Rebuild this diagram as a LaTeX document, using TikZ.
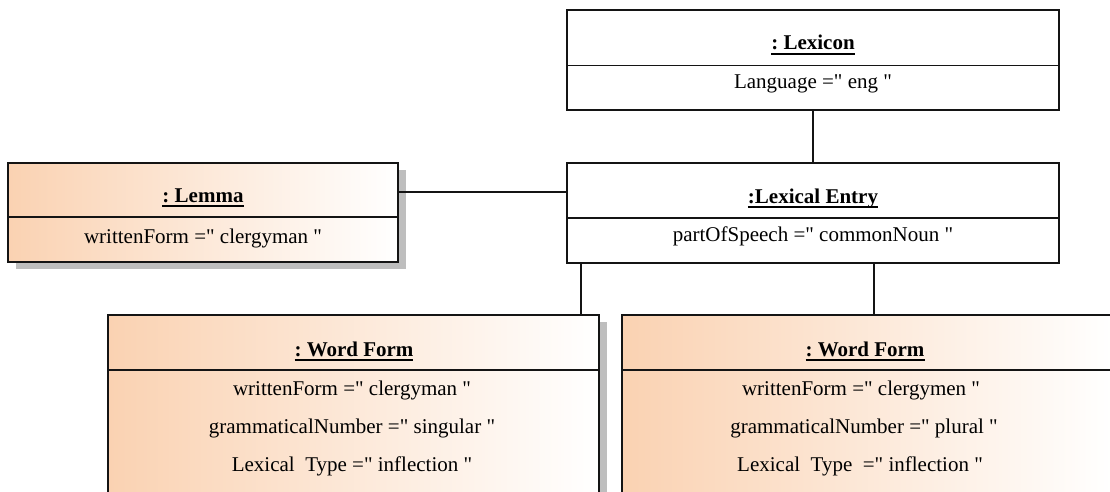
\documentclass[tikz,border=0pt]{standalone}
\usepackage{fontspec}
\setmainfont{Liberation Serif}
\usetikzlibrary{shadows}

\definecolor{peach}{RGB}{250,210,178}
\definecolor{shadowgray}{RGB}{190,190,190}
\definecolor{edge}{RGB}{20,20,20}

% straight double quote, set as a glyph so no text mapping curls it
\newcommand{\dq}{\XeTeXglyph\XeTeXcharglyph"22\relax}
% bold, thickly underlined object title
\newcommand{\objtitle}[1]{\setbox0\hbox{\bfseries #1}\rlap{\rule[-4.6pt]{\wd0}{1.8pt}}\box0}

\tikzset{
  objbox/.style={draw=edge, line width=1.8pt, rectangle, inner sep=0pt},
  plainbox/.style={objbox, fill=white},
  tintbox/.style={objbox, left color=peach, right color=white,
    general shadow={fill=shadowgray, shadow xshift=8pt, shadow yshift=-7pt}},
  divider/.style={draw=edge, line width=1.7pt},
  link/.style={draw=edge, line width=1.7pt},
  label/.style={anchor=base, inner sep=0pt, font=\fontsize{21}{25}\selectfont\frenchspacing},
}

\begin{document}
\begin{tikzpicture}[x=1pt,y=-1pt]
  \clip (0,0) rectangle (1110,492);

  % object boxes
  \node[plainbox, minimum width=492pt, minimum height=100pt] (lexicon) at (813,60) {};
  \node[plainbox, minimum width=492pt, minimum height=100pt] (entry) at (813,213) {};
  \node[tintbox, minimum width=390pt, minimum height=99pt] (lemma) at (203,212.5) {};
  \node[tintbox, minimum width=491pt, minimum height=205pt] (wfa) at (353.5,417.5) {};
  \node[tintbox, minimum width=491pt, minimum height=205pt] (wfb) at (867.5,417.5) {};

  % compartment dividers
  \draw[divider] ([yshift=-56.5pt]lexicon.north west) -- ([yshift=-56.5pt]lexicon.north east);
  \draw[divider] ([yshift=-56pt]entry.north west) -- ([yshift=-56pt]entry.north east);
  \draw[divider] ([yshift=-55pt]lemma.north west) -- ([yshift=-55pt]lemma.north east);
  \draw[divider] ([yshift=-56pt]wfa.north west) -- ([yshift=-56pt]wfa.north east);
  \draw[divider] ([yshift=-56pt]wfb.north west) -- ([yshift=-56pt]wfb.north east);

  % texts
  \node[label] (lexiconT) at (813,50) {\objtitle{: Lexicon}};
  \node[label] (lexiconA) at (813,89) {Language =\dq{} eng \dq};

  \node[label] (entryT) at (813,203) {\objtitle{:Lexical Entry}};
  \node[label] (entryA) at (813,241) {partOfSpeech =\dq{} commonNoun \dq};

  \node[label] (lemmaT) at (203,202) {\objtitle{: Lemma}};
  \node[label] (lemmaA) at (203,243) {writtenForm =\dq{} clergyman \dq};

  \node[label] (wfaT) at (354,356) {\objtitle{: Word Form}};
  \node[label] (wfaA) at (352,395) {writtenForm =\dq{} clergyman \dq};
  \node[label] (wfaB) at (352,433) {grammaticalNumber =\dq{} singular \dq};
  \node[label] (wfaC) at (352,471) {Lexical\ \ Type =\dq{} inflection \dq};

  \node[label] (wfbT) at (865,356) {\objtitle{: Word Form}};
  \node[label] (wfbA) at (861,395) {writtenForm =\dq{} clergymen \dq};
  \node[label] (wfbB) at (864,433) {grammaticalNumber =\dq{} plural \dq};
  \node[label] (wfbC) at (860,471) {Lexical\ \ Type\ \ =\dq{} inflection \dq};

  % links
  \draw[link] (lexicon.south) -- (entry.north);
  \draw[link] ([yshift=20.5pt]lemma.east) -- ([yshift=20.5pt]lemma.east -| entry.west);
  \draw[link] ([xshift=15pt]entry.south west) -- ([xshift=15pt]entry.south west |- wfa.north);
  \draw[link] ([xshift=308pt]entry.south west) -- ([xshift=308pt]entry.south west |- wfb.north);
\end{tikzpicture}
\end{document}
